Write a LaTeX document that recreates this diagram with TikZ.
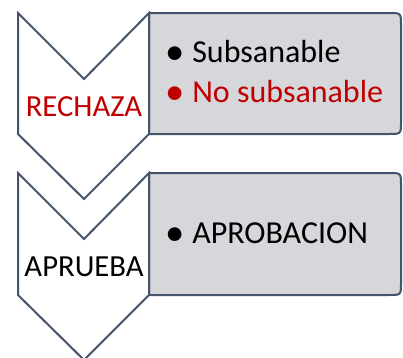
\documentclass[tikz,border=0pt]{standalone}
\usepackage{fontspec}
\setmainfont{Carlito}
\usepackage{tikz}
\usetikzlibrary{positioning}
\definecolor{borde}{HTML}{44546A}
\definecolor{relleno}{HTML}{D6D7DB}
\definecolor{rojo}{HTML}{C00000}
\tikzset{
  flecha/.style={draw=borde,line width=1.5pt,fill=white,line join=miter},
  caja/.style={draw=borde,line width=1.5pt,fill=relleno},
  etiqueta/.style={font=\fontsize{23}{27}\selectfont,inner sep=0pt,anchor=base},
  vineta/.style={font=\fontsize{29}{33}\selectfont,inner sep=0pt,anchor=base},
  punto/.style={font=\fontsize{24}{28}\selectfont,inner sep=0pt,anchor=base west}
}

\begin{document}
\begin{tikzpicture}[x=0.75pt,y=-0.75pt]
\useasboundingbox (0,0) rectangle (403,357);
% cajas
\draw[caja] (149,13) -- (389,13) .. controls (401,13) .. (401,25) -- (401,122)
  .. controls (401,134) .. (389,134) -- (149,134) -- cycle;
\draw[caja] (149,173) -- (389,173) .. controls (401,173) .. (401,185) -- (401,283)
  .. controls (401,295) .. (389,295) -- (149,295) -- cycle;
% flechas
\draw[flecha] (18,13) -- (84,79) -- (149,13) -- (149,134) -- (84,199) -- (18,134) -- cycle;
\draw[flecha] (18,173) -- (84,239) -- (149,173) -- (149,295) -- (84,360) -- (18,295) -- cycle;
% etiquetas
\node[etiqueta,text=rojo] (rechaza) at (84,116) {RECHAZA};
\node[etiqueta] (aprueba) at (84,276) {APRUEBA};
% puntos
\node[vineta] (v1) at (175.5,64) {\textbullet};
\node[punto] (subsanable) at (192,62) {Subsanable};
\node[vineta,text=rojo] (v2) at (175.5,104) {\textbullet};
\node[punto,text=rojo] (nosubsanable) at (192,102) {No subsanable};
\node[vineta] (v3) at (175.5,245) {\textbullet};
\node[punto] (aprobacion) at (192,243) {APROBACION};
\end{tikzpicture}
\end{document}
